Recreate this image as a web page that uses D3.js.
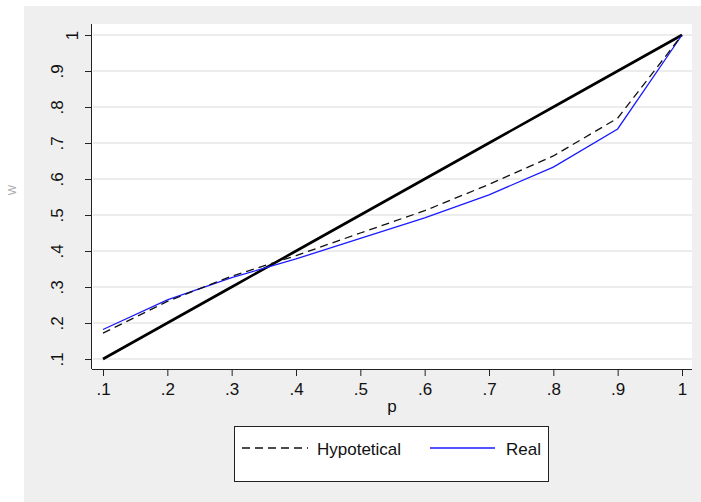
<!DOCTYPE html>
<html>
<head>
<meta charset="utf-8">
<script src="https://cdnjs.cloudflare.com/ajax/libs/d3/7.8.5/d3.min.js"></script>
<style>
  body { margin: 0; background: #fff; }
  text { font-family: "Liberation Sans", Arial, sans-serif; }
</style>
</head>
<body>
<svg id="canvas" width="701" height="502"></svg>
<script>
// values
var pValues = [0.1, 0.2, 0.3, 0.4, 0.5, 0.6, 0.7, 0.8, 0.9, 1];
var equality = [0.1, 0.2, 0.3, 0.4, 0.5, 0.6, 0.7, 0.8, 0.9, 1];
var hypotetical = [0.172, 0.26, 0.33, 0.387, 0.45, 0.512, 0.585, 0.664, 0.769, 1];
var real = [0.182, 0.264, 0.326, 0.378, 0.435, 0.492, 0.556, 0.633, 0.739, 1];
var xTicks = [0.1, 0.2, 0.3, 0.4, 0.5, 0.6, 0.7, 0.8, 0.9, 1];
var yTicks = [0.1, 0.2, 0.3, 0.4, 0.5, 0.6, 0.7, 0.8, 0.9, 1];

var svg = d3.select("#canvas");

// stata-ish gray background
svg.append("rect").attr("x", 24).attr("y", 6).attr("width", 677).attr("height", 496).attr("fill", "#efefef");

var plotL = 92, plotR = 692, plotT = 24, plotB = 369;
svg.append("rect").attr("x", plotL).attr("y", plotT)
  .attr("width", plotR - plotL).attr("height", plotB - plotT).attr("fill", "#fff");

var x = d3.scaleLinear().domain([0.1, 1]).range([103, 682]);
var y = d3.scaleLinear().domain([0.1, 1]).range([359, 35]);

function fmt(d) { return d === 1 ? "1" : d3.format(".1f")(d).replace(/^0/, ""); }

// gridlines
svg.append("g").selectAll("line").data(yTicks).enter().append("line")
  .attr("x1", plotL + 1).attr("x2", plotR)
  .attr("y1", function(d) { return y(d); }).attr("y2", function(d) { return y(d); })
  .attr("stroke", "#e6e6e6").attr("stroke-width", 1.5);

// axes
var xAxis = svg.append("g").attr("transform", "translate(0," + plotB + ")")
  .call(d3.axisBottom(x).tickValues(xTicks).tickFormat(fmt).tickSize(7).tickSizeOuter(0).tickPadding(7));
xAxis.select(".domain").attr("d", "M" + plotL + ",0.5H" + plotR).attr("stroke", "#222");
xAxis.selectAll(".tick line").attr("stroke", "#222");
xAxis.selectAll(".tick text").attr("font-size", 17).attr("fill", "#111")
  .attr("font-family", "Liberation Sans, Arial, sans-serif");

var yAxis = svg.append("g").attr("transform", "translate(" + plotL + ",0)")
  .call(d3.axisLeft(y).tickValues(yTicks).tickFormat(fmt).tickSize(7).tickSizeOuter(0));
yAxis.select(".domain").attr("d", "M-0.5," + plotT + "V" + plotB).attr("stroke", "#222");
yAxis.selectAll(".tick line").attr("stroke", "#222");
// stata rotates y labels
yAxis.selectAll(".tick text")
  .attr("font-size", 17).attr("fill", "#111")
  .attr("font-family", "Liberation Sans, Arial, sans-serif")
  .attr("text-anchor", "middle").attr("dy", null)
  .attr("x", null)
  .attr("transform", function(d) { return "translate(" + (d === 1 ? -14 : -29) + ",0) rotate(-90)"; });

// axis titles
svg.append("text").attr("x", 392).attr("y", 412).attr("text-anchor", "middle")
  .attr("font-size", 17).attr("fill", "#111").text("p");
svg.append("text").attr("transform", "translate(16,190) rotate(-90)").attr("text-anchor", "middle")
  .attr("font-size", 11).attr("fill", "#aaa").text("W");

// lines
var line = d3.line().x(function(d) { return x(d[0]); }).y(function(d) { return y(d[1]); });
function pairs(vals) { return pValues.map(function(p, i) { return [p, vals[i]]; }); }

svg.append("path").datum(pairs(equality)).attr("d", line)
  .attr("fill", "none").attr("stroke", "#000").attr("stroke-width", 2.6);
svg.append("path").datum(pairs(real)).attr("d", line)
  .attr("fill", "none").attr("stroke", "#1a1aff").attr("stroke-width", 1.3);
svg.append("path").datum(pairs(hypotetical)).attr("d", line)
  .attr("fill", "none").attr("stroke", "#111").attr("stroke-width", 1.3)
  .attr("stroke-dasharray", "8,5");

// legend
var leg = svg.append("g");
leg.append("rect").attr("x", 234.5).attr("y", 426.5).attr("width", 314).attr("height", 55)
  .attr("fill", "#fff").attr("stroke", "#222").attr("stroke-width", 1);
leg.append("line").attr("x1", 242).attr("x2", 308).attr("y1", 448).attr("y2", 448)
  .attr("stroke", "#111").attr("stroke-width", 1.3).attr("stroke-dasharray", "8,5");
leg.append("text").attr("x", 317).attr("y", 455).attr("font-size", 17).attr("fill", "#111").text("Hypotetical");
leg.append("line").attr("x1", 430).attr("x2", 495).attr("y1", 448).attr("y2", 448)
  .attr("stroke", "#1a1aff").attr("stroke-width", 1.3);
leg.append("text").attr("x", 506).attr("y", 455).attr("font-size", 17).attr("fill", "#111").text("Real");
</script>
</body>
</html>
